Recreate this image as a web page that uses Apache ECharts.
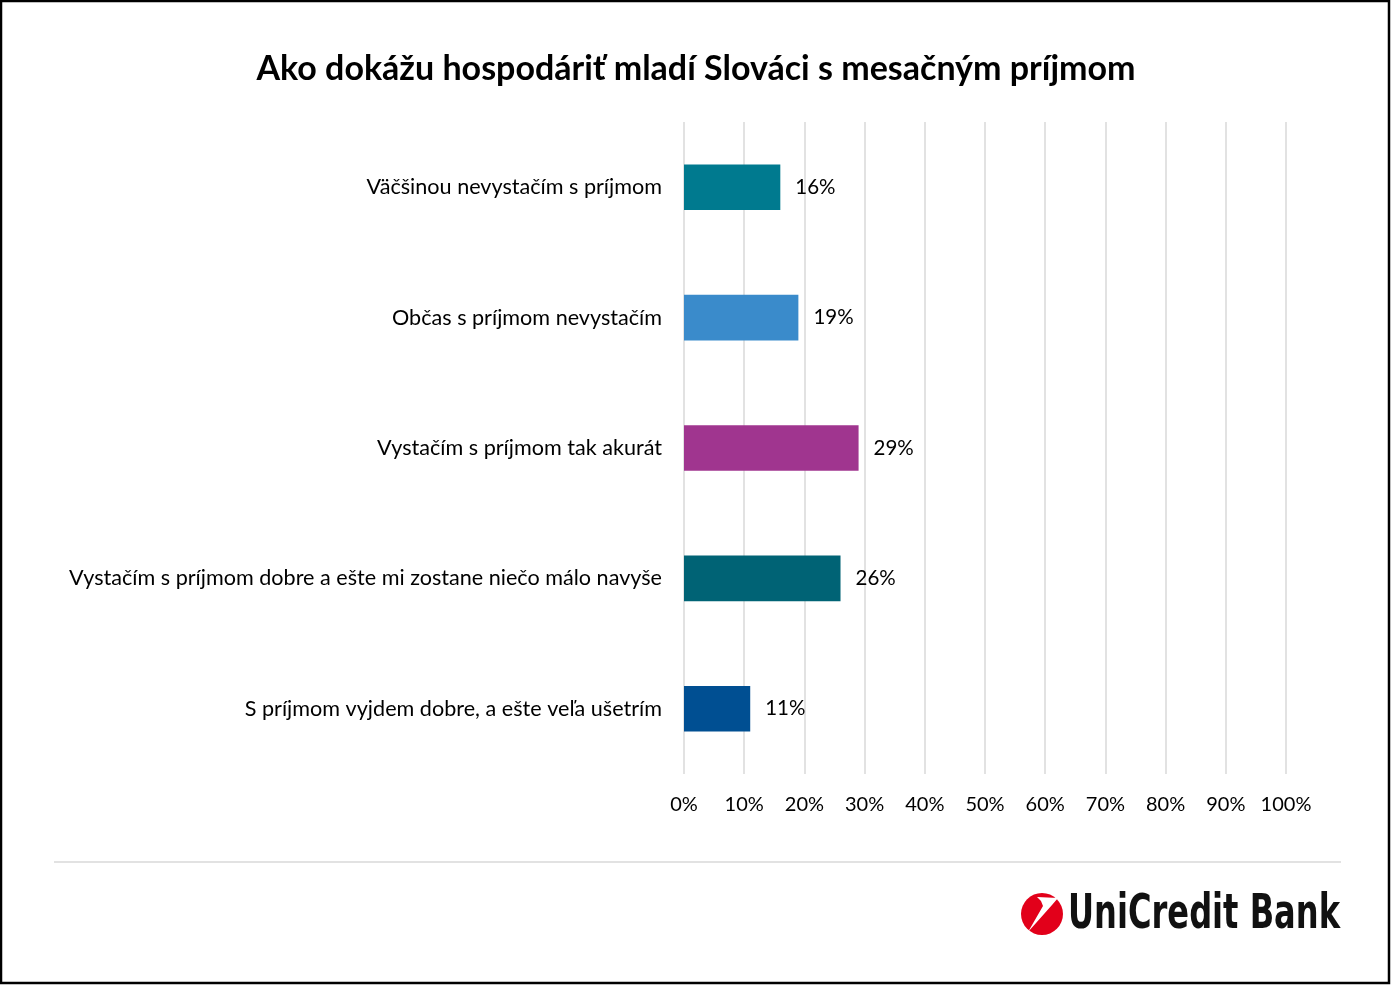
<!DOCTYPE html>
<html><head><meta charset="utf-8">
<script src="https://cdn.jsdelivr.net/npm/echarts@6/dist/echarts.min.js"></script>
<style>html,body{margin:0;padding:0;background:#fff}#c{width:1392px;height:986px}</style>
</head><body><div id="c"></div>
<script>
const categories = [
  'Väčšinou nevystačím s príjmom',
  'Občas s príjmom nevystačím',
  'Vystačím s príjmom tak akurát',
  'Vystačím s príjmom dobre a ešte mi zostane niečo málo navyše',
  'S príjmom vyjdem dobre, a ešte veľa ušetrím'
];
const values = [16, 19, 29, 26, 11];
const barColors = ['#007A8F', '#3A8BCB', '#A0358F', '#006375', '#004F92'];
const titleText = 'Ako dokážu hospodáriť mladí Slováci s mesačným príjmom';
const logoText = 'UniCredit Bank';

const FONT = 'Lato, "Open Sans", sans-serif';
const LOGO_FONT = 'bold 48px "DejaVu Sans Condensed", "DejaVu Sans", sans-serif';
const mctx = document.createElement('canvas').getContext('2d');
mctx.font = LOGO_FONT;
const logoW = mctx.measureText(logoText).width;
const logoScale = 272 / logoW;

const chart = echarts.init(document.getElementById('c'));
chart.setOption({
  animation: false,
  backgroundColor: '#fff',
  title: {
    text: titleText, left: 'center', top: 47,
    textStyle: { fontFamily: FONT, fontSize: 34, fontWeight: 'bold', color: '#000' }
  },
  grid: { left: 684, right: 106, top: 122, bottom: 212, containLabel: false },
  xAxis: {
    type: 'value', min: 0, max: 100, interval: 10,
    axisLine: { show: false }, axisTick: { show: false },
    axisLabel: { formatter: '{value}%', fontFamily: FONT, fontSize: 20, color: '#000', margin: 21 },
    splitLine: { show: true, lineStyle: { color: '#d9d9d9', width: 1.5 } }
  },
  yAxis: {
    type: 'category', data: categories, inverse: true,
    axisLine: { show: false }, axisTick: { show: false },
    axisLabel: { fontFamily: FONT, fontSize: 21.6, color: '#000', margin: 22, padding: [2, 0, 0, 0] }
  },
  series: [{
    type: 'bar', barCategoryGap: '65%',
    data: values.map((v, i) => ({ value: v, itemStyle: { color: barColors[i] } })),
    label: { show: true, position: 'right', distance: 15, formatter: '{c}%', fontFamily: FONT, fontSize: 20.5, color: '#000', padding: [2, 0, 0, 0] }
  }],
  graphic: [
    { type: 'rect', shape: { x: 1, y: 1, width: 1388, height: 982 }, style: { fill: 'none', stroke: '#000', lineWidth: 2.5 }, silent: true },
    { type: 'line', shape: { x1: 54, y1: 862, x2: 1341, y2: 862 }, style: { stroke: '#d9d9d9', lineWidth: 1.5 } },
    { type: 'circle', shape: { cx: 1042, cy: 914, r: 21 }, style: { fill: '#E2001A' } },
    { type: 'polygon', shape: { points: [[1037,897],[1058,898],[1052,905],[1028,932],[1043,906],[1041,901]] }, style: { fill: '#fff' } },
    { type: 'text', x: 1068, y: 916, scaleX: logoScale, style: { text: logoText, font: LOGO_FONT, fill: '#111', textVerticalAlign: 'middle', textAlign: 'left' } }
  ]
});
</script></body></html>
